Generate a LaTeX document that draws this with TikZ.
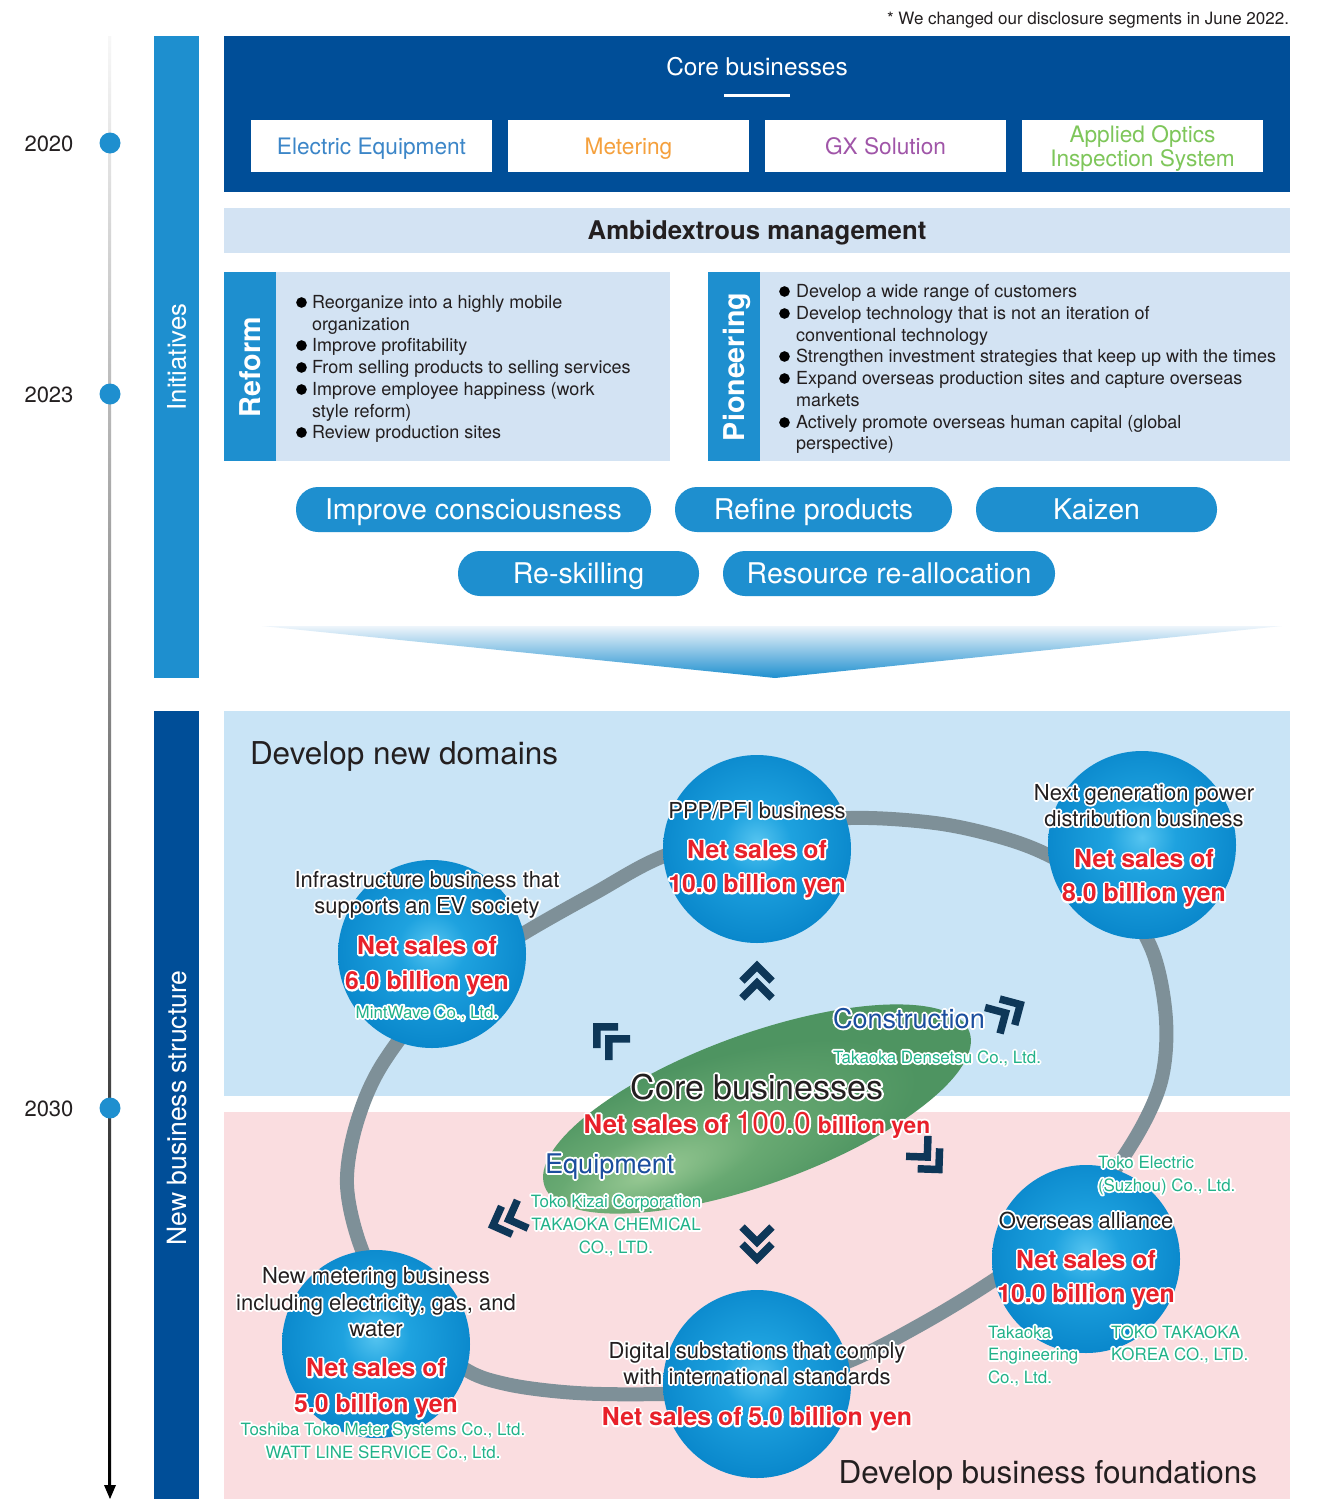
\documentclass[tikz,border=0pt]{standalone}
\usepackage{fontspec}
\setmainfont{TeX Gyre Heros}
% white outline behind a text: a stroked copy underneath the filled one
\newcommand\hw[1]{\leavevmode\rlap{\special{pdf:literal direct 1 1 1 RG 1 j 2.8 w 2 Tr}#1\special{pdf:literal direct 0 Tr}}#1}
\newcommand\fs[1]{\fontsize{#1pt}{#1pt}\selectfont}

\definecolor{navy}{HTML}{004E98}
\definecolor{midblue}{HTML}{1E8FCF}
\definecolor{paleblue}{HTML}{D3E3F3}
\definecolor{skyzone}{HTML}{C9E4F6}
\definecolor{pinkzone}{HTML}{FADDE0}
\definecolor{ringgray}{HTML}{7E9098}
\definecolor{salesred}{HTML}{E8212A}
\definecolor{firmgreen}{HTML}{22B289}
\definecolor{segblue}{HTML}{1B4E9E}
\definecolor{chevnavy}{HTML}{0E3758}
\definecolor{txtdark}{HTML}{231F20}
\definecolor{eqblue}{HTML}{3C86C8}
\definecolor{meterorange}{HTML}{F5A03C}
\definecolor{gxpurple}{HTML}{A055A8}
\definecolor{opticsgreen}{HTML}{7EC65A}
\definecolor{orbedge}{HTML}{0070B9}
\definecolor{orbmid}{HTML}{0A88CC}
\definecolor{orbsoft}{HTML}{1EA2DF}
\definecolor{orbcore}{HTML}{55C4F0}
\definecolor{leafedge}{HTML}{4E9461}
\definecolor{leafsoft}{HTML}{68A972}
\definecolor{leafcore}{HTML}{98C994}
\definecolor{funneltop}{HTML}{EEF5FB}

% spherical look of the business circles
\pgfdeclareradialshading{orbshade}{\pgfpoint{0bp}{2bp}}{%
  color(0bp)=(orbcore); color(9bp)=(orbsoft); color(26bp)=(orbmid);
  color(46bp)=(orbedge); color(100bp)=(orbedge)}
% soft highlight of the core-business ellipse
\pgfdeclareradialshading{leafshade}{\pgfpoint{-14bp}{-8bp}}{%
  color(0bp)=(leafcore); color(12bp)=(leafsoft); color(28bp)=(leafedge);
  color(100bp)=(leafedge)}

\begin{document}
\begin{tikzpicture}[x=0.75pt, y=-0.75pt,
  box/.style={inner sep=0pt, outer sep=0pt},
  seg/.style={box, fill=white, minimum width=180.75pt, minimum height=39pt,
    font=\fs{17}, text height=12.2pt, text depth=0pt},
  pill/.style={box, fill=midblue, text=white, rounded corners=16.5pt,
    minimum height=33.75pt, font=\fs{21.4}, text height=15.4pt, text depth=0pt},
  tldot/.style={box, circle, fill=midblue, minimum size=15.75pt},
  yearlab/.style={box, anchor=base, font=\fs{16.5}, text=txtdark},
  vlab/.style={box, anchor=base, rotate=90, text=white},
  bul/.style={box, circle, fill=black, minimum size=8pt},
  btxt/.style={box, anchor=base west, font=\fs{13.5}, text=txtdark},
  orb/.style={box, circle, minimum size=141pt, shading=orbshade},
  zonehead/.style={box, font=\fs{23.6}, text=txtdark},
  lbl/.style={box, anchor=base, font=\fs{16.5}, text=txtdark},
  sales/.style={box, anchor=base, font=\bfseries\fs{18.6}, text=salesred},
  firm/.style={box, anchor=base, font=\fs{12.7}, text=firmgreen},
  firmw/.style={firm, anchor=base west},
  seglab/.style={box, anchor=base west, font=\fs{20.3}, text=segblue},
  dchev/.pic={\draw[chevnavy, line width=5.6pt]
    (-15,2) -- (0,-13) -- (15,2) (-15,19) -- (0,4) -- (15,19);}
]
\useasboundingbox (0,0) rectangle (1320,1499);
\fill[white] (0,0) rectangle (1320,1499);

% footnote
\node[box, anchor=base east, font=\fs{12.75}, text=txtdark] (note) at (1289,24)
  {* We changed our disclosure segments in June 2022.};

% timeline
\shade[top color=black!3, middle color=black!50, bottom color=black] (108,36) rectangle (111,1487);
\fill[black] (104,1485) -- (116,1485) -- (110,1499) -- cycle;
\node[tldot] (t2020) at (110,143) {};
\node[tldot] (t2023) at (110,394) {};
\node[tldot] (t2030) at (110,1108) {};
\node[yearlab] (y2020) at (49,151) {2020};
\node[yearlab] (y2023) at (49,402) {2023};
\node[yearlab] (y2030) at (49,1116) {2030};

% side bars
\node[box, fill=midblue, minimum width=33.75pt, minimum height=481.5pt] (initbar) at (176.5,357) {};
\node[vlab, font=\fs{19.3}] (inittxt) at (185.8,357) {Initiatives};
\node[box, fill=navy, minimum width=33.75pt, minimum height=591pt] (newbar) at (176.5,1105) {};
\node[vlab, font=\fs{19.9}] (newtxt) at (186,1108) {New business structure};

% core businesses
\node[box, fill=navy, minimum width=799.5pt, minimum height=117pt] (corebox) at (757,114) {};
\node[box, anchor=base, font=\fs{18.3}, text=white] (coretitle) at (757,75) {Core businesses};
\fill[white] (724,93.5) rectangle (790,96.5);
\node[seg, text=eqblue] (electric) at (371.5,146) {Electric Equipment};
\node[seg, text=meterorange] (metering) at (628.5,146) {Metering};
\node[seg, text=gxpurple] (gx) at (885.5,146) {GX Solution};
\node[seg] (optics) at (1142.5,146) {};
\node[box, anchor=base, font=\fs{17}, text=opticsgreen] (opt1) at (1142.5,142) {Applied Optics};
\node[box, anchor=base, font=\fs{17}, text=opticsgreen] (opt2) at (1142.5,166) {Inspection System};

% ambidextrous management
\node[box, fill=paleblue, minimum width=799.5pt, minimum height=33.75pt,
  font=\bfseries\fs{19.3}, text=txtdark, text height=13.9pt, text depth=0pt]
  (ambi) at (757,230.5) {Ambidextrous management};

% reform panel
\node[box, fill=midblue, minimum width=39pt, minimum height=141.75pt] (reformtab) at (250,366.5) {};
\node[box, fill=paleblue, minimum width=295.5pt, minimum height=141.75pt] (reformbody) at (473,366.5) {};
\node[vlab, font=\bfseries\fs{21.5}] (reformtxt) at (260.3,367) {Reform};
\foreach \yy/\tx in {302/Reorganize into a highly mobile, 324/organization,
    345/Improve profitability, 367/From selling products to selling services,
    389/Improve employee happiness (work, 411/style reform),
    432/Review production sites}
  \node[btxt] (rf\yy) at (312,\yy+6.5) {\tx};
\foreach \yy in {302,345,367,389,432}
  \node[bul] (rb\yy) at (301.5,\yy+0.5) {};

% pioneering panel
\node[box, fill=midblue, minimum width=39pt, minimum height=141.75pt] (piontab) at (734,366.5) {};
\node[box, fill=paleblue, minimum width=397.5pt, minimum height=141.75pt] (pionbody) at (1025,366.5) {};
\node[vlab, font=\bfseries\fs{21.5}] (piontxt) at (744.3,367) {Pioneering};
\foreach \yy/\tx in {291/Develop a wide range of customers,
    313/Develop technology that is not an iteration of,
    335/conventional technology,
    356/Strengthen investment strategies that keep up with the times,
    378/Expand overseas production sites and capture overseas,
    400/markets,
    422/Actively promote overseas human capital (global,
    443/perspective)}
  \node[btxt] (pn\yy) at (796,\yy+6.5) {\tx};
\foreach \yy in {291,313,356,378,422}
  \node[bul] (pb\yy) at (784.5,\yy+0.5) {};

% measures
\node[pill, minimum width=266.25pt] (consc) at (473.5,509.5) {Improve consciousness};
\node[pill, minimum width=207.75pt] (refine) at (813.5,509.5) {Refine products};
\node[pill, minimum width=180.75pt] (kaizen) at (1096.5,509.5) {Kaizen};
\node[pill, minimum width=180.75pt] (reskill) at (578.5,573.5) {Re-skilling};
\node[pill, minimum width=249pt] (realloc) at (889,573.5) {Resource re-allocation};

% funnel wedge
\shade[top color=funneltop, bottom color=midblue] (262,626) -- (1282,626) -- (775,678) -- cycle;

% zones
\fill[skyzone] (224,711) rectangle (1290,1096);
\fill[pinkzone] (224,1112) rectangle (1290,1499);
\node[zonehead, anchor=base west] (newdom) at (250,764) {Develop new domains};
\node[zonehead, anchor=base east] (found) at (1257,1483) {Develop business foundations};

% ring through the businesses
\draw[ringgray, line width=10.5pt] plot[smooth cycle, tension=0.55] coordinates {
  (347,1185) (357,1122) (385,1060) (450,980) (526,932) (595,893) (664,856)
  (760,828) (850,818) (935,823) (1000,837) (1050,856) (1115,895) (1152,950)
  (1166,1020) (1160,1085) (1128,1150) (1070,1225) (994,1280) (920,1325)
  (847,1362) (760,1390) (663,1394) (577,1393) (506,1384) (460,1366)
  (395,1310) (362,1250)};

% core-business ellipse
\begin{scope}[transform canvas={shift={(757,1109)}, rotate=20}]
  \shade[shading=leafshade] (0,0) ellipse [x radius=226, y radius=75];
\end{scope}

% business circles
\node[orb] (ev) at (432,954) {};
\node[orb] (ppp) at (757,849) {};
\node[orb] (nextgen) at (1142,845) {};
\node[orb] (overseas) at (1086,1259) {};
\node[orb] (digital) at (757,1384) {};
\node[orb] (meter) at (376,1344) {};

% growth chevrons
\pic[rotate=0] at (757,979) {dchev};
\pic[rotate=45] at (606,1036) {dchev};
\pic[rotate=-60] at (1009,1011) {dchev};
\pic[rotate=-137] at (930,1160) {dchev};
\pic[rotate=180] at (757,1246) {dchev};
\pic[rotate=111] at (505,1221) {dchev};

% EV infrastructure
\node[lbl] (ev1) at (427,887) {\hw{Infrastructure business that}};
\node[lbl] (ev2) at (427,913) {\hw{supports an EV society}};
\node[sales] (ev3) at (427,954.5) {\hw{Net sales of}};
\node[sales] (ev4) at (427,989.5) {\hw{6.0 billion yen}};
\node[firm] (ev5) at (427,1018) {\hw{MintWave Co., Ltd.}};

% PPP/PFI
\node[lbl] (ppp1) at (757,818) {\hw{PPP/PFI business}};
\node[sales] (ppp2) at (757,858.5) {\hw{Net sales of}};
\node[sales] (ppp3) at (757,892.5) {\hw{10.0 billion yen}};

% next generation distribution
\node[lbl] (ng1) at (1144,800) {\hw{Next generation power}};
\node[lbl] (ng2) at (1144,826) {\hw{distribution business}};
\node[sales] (ng3) at (1144,867.5) {\hw{Net sales of}};
\node[sales] (ng4) at (1144,901.5) {\hw{8.0 billion yen}};

% core businesses
\node[seglab] (constr) at (833,1028) {\hw{Construction}};
\node[firmw] (densetsu) at (833,1063) {\hw{Takaoka Densetsu Co., Ltd.}};
\node[box, anchor=base, font=\fs{25.5}, text=txtdark] (coremain) at (757,1099) {\hw{Core businesses}};
\node[box, anchor=base, text=salesred] (coresales) at (757,1133)
  {\hw{\bfseries\fs{19.3}Net sales of {\mdseries\fs{22.5}100.0} \fs{17.1}billion yen}};
\node[seglab] (equip) at (545,1173) {\hw{Equipment}};
\node[firm] (kizai) at (616,1207) {\hw{Toko Kizai Corporation}};
\node[firm] (chem1) at (616,1230) {\hw{TAKAOKA CHEMICAL}};
\node[firm] (chem2) at (616,1253) {\hw{CO., LTD.}};

% overseas alliance
\node[firmw] (suz1) at (1098,1168) {\hw{Toko Electric}};
\node[firmw] (suz2) at (1098,1191) {\hw{(Suzhou) Co., Ltd.}};
\node[lbl] (ov1) at (1086,1228) {\hw{Overseas alliance}};
\node[sales] (ov2) at (1086,1268.5) {\hw{Net sales of}};
\node[sales] (ov3) at (1086,1302.5) {\hw{10.0 billion yen}};
\node[firmw] (te1) at (988,1338) {\hw{Takaoka}};
\node[firmw] (te2) at (988,1360) {\hw{Engineering}};
\node[firmw] (te3) at (988,1383) {\hw{Co., Ltd.}};
\node[firmw] (kr1) at (1111,1338) {\hw{TOKO TAKAOKA}};
\node[firmw] (kr2) at (1111,1360) {\hw{KOREA CO., LTD.}};

% digital substations
\node[lbl] (dg1) at (757,1358) {\hw{Digital substations that comply}};
\node[lbl] (dg2) at (757,1384) {\hw{with international standards}};
\node[sales] (dg3) at (757,1425.5) {\hw{Net sales of 5.0 billion yen}};

% new metering
\node[lbl] (mt1) at (376,1283) {\hw{New metering business}};
\node[lbl] (mt2) at (376,1310) {\hw{including electricity, gas, and}};
\node[lbl] (mt3) at (376,1336) {\hw{water}};
\node[sales] (mt4) at (376,1376.5) {\hw{Net sales of}};
\node[sales] (mt5) at (376,1412.5) {\hw{5.0 billion yen}};
\node[firm] (mt6) at (383,1435) {\hw{Toshiba Toko Meter Systems Co., Ltd.}};
\node[firm] (mt7) at (383,1458) {\hw{WATT LINE SERVICE Co., Ltd.}};
\end{tikzpicture}
\end{document}
